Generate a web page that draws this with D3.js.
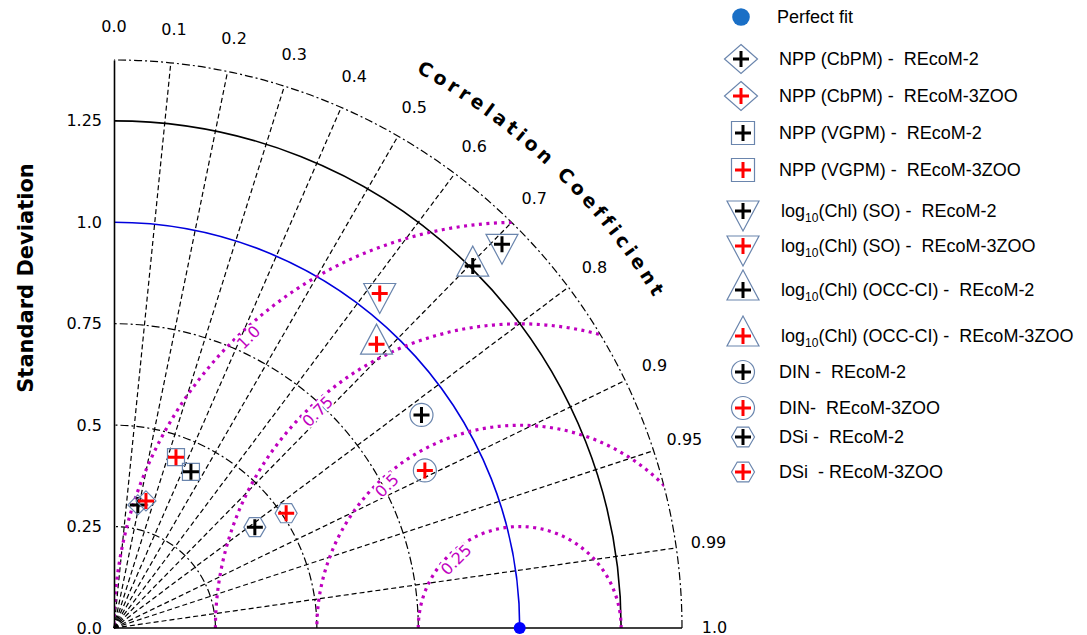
<!DOCTYPE html>
<html>
<head>
<meta charset="utf-8">
<script src="https://cdn.jsdelivr.net/npm/d3@7"></script>
<style>
body { margin: 0; background: #fff; }
</style>
</head>
<body>
<svg></svg>
<script>
var w = 1087;
var h = 635;

// series, in legend order
var seriesNames = [
  "NPP (CbPM) -  REcoM-2",
  "NPP (CbPM) -  REcoM-3ZOO",
  "NPP (VGPM) -  REcoM-2",
  "NPP (VGPM) -  REcoM-3ZOO",
  "log_10(Chl) (SO) -  REcoM-2",
  "log_10(Chl) (SO) -  REcoM-3ZOO",
  "log_10(Chl) (OCC-CI) -  REcoM-2",
  "log_10(Chl) (OCC-CI) -  REcoM-3ZOO",
  "DIN -  REcoM-2",
  "DIN-  REcoM-3ZOO",
  "DSi -  REcoM-2",
  "DSi  - REcoM-3ZOO"
];
var stdValues = [0.309, 0.323, 0.429, 0.448, 1.345, 1.053, 1.256, 0.953, 0.922, 0.859, 0.427, 0.51];
var corrValues = [0.19, 0.244, 0.442, 0.341, 0.711, 0.622, 0.704, 0.679, 0.822, 0.892, 0.813, 0.832];
var shapes = ["diamond", "diamond", "square", "square", "triDown", "triDown", "triUp", "triUp", "circle", "circle", "hexagon", "hexagon"];
var crossColors = ["#000", "#ff0000", "#000", "#ff0000", "#000", "#ff0000", "#000", "#ff0000", "#000", "#ff0000", "#000", "#ff0000"];

// grid / ticks
var stdTicks = [0, 0.25, 0.5, 0.75, 1.0, 1.25];
var stdTickLabels = ["0.0", "0.25", "0.5", "0.75", "1.0", "1.25"];
var stdArcs = [0.25, 0.5, 0.75];
var corrTicks = [0.0, 0.1, 0.2, 0.3, 0.4, 0.5, 0.6, 0.7, 0.8, 0.9, 0.95, 0.99, 1.0];
var corrTickLabels = ["0.0", "0.1", "0.2", "0.3", "0.4", "0.5", "0.6", "0.7", "0.8", "0.9", "0.95", "0.99", "1.0"];
var rmsLevels = [0.25, 0.5, 0.75, 1.0];
var rmsLabels = ["0.25", "0.5", "0.75", "1.0"];
var refStd = 1.0;
var maxStd = 1.4;

// legend row positions (layout)
var legendY = [59, 96, 133, 170, 211, 246, 290, 336, 372, 408, 437, 472];

var ox = 114, oy = 628;
var r = d3.scaleLinear().domain([0, maxStd]).range([0, 568]);
var yScale = d3.scaleLinear().domain([0, maxStd]).range([oy, oy - 568]);

function pt(s, c) {
  var a = Math.acos(c);
  return [ox + r(s) * Math.cos(a), oy - r(s) * Math.sin(a)];
}

var svg = d3.select("svg").attr("width", w).attr("height", h)
  .style("font-family", "DejaVu Sans");

var defs = svg.append("defs");
defs.append("clipPath").attr("id", "quarter")
  .append("path")
  .attr("d", "M" + ox + "," + oy + " L" + (ox + r(maxStd)) + "," + oy +
    " A" + r(maxStd) + "," + r(maxStd) + " 0 0 0 " + ox + "," + (oy - r(maxStd)) + " Z");

function arcPath(s) {
  return "M" + (ox + r(s)) + "," + oy + " A" + r(s) + "," + r(s) + " 0 0 0 " + ox + "," + (oy - r(s));
}

// radial correlation lines
svg.selectAll("line.corr")
  .data(corrTicks.filter((c) => c > 0 && c < 1))
  .enter()
  .append("line")
  .attr("class", "corr")
  .attr("x1", ox).attr("y1", oy)
  .attr("x2", (d) => pt(maxStd, d)[0])
  .attr("y2", (d) => pt(maxStd, d)[1])
  .style("stroke", "#000")
  .style("stroke-width", 1.2)
  .style("stroke-dasharray", "5,3");

// std arcs
svg.selectAll("path.std")
  .data(stdArcs.concat([maxStd]))
  .enter()
  .append("path")
  .attr("class", "std")
  .attr("d", (d) => arcPath(d))
  .style("fill", "none")
  .style("stroke", "#000")
  .style("stroke-width", 1.2)
  .style("stroke-dasharray", "8,3,2,3");

svg.append("path")
  .attr("d", arcPath(1.25))
  .style("fill", "none")
  .style("stroke", "#000")
  .style("stroke-width", 1.6);

svg.append("path")
  .attr("d", arcPath(refStd))
  .style("fill", "none")
  .style("stroke", "#0000dd")
  .style("stroke-width", 1.6);

// centred RMS difference arcs
var rmsG = svg.append("g").attr("clip-path", "url(#quarter)");
rmsG.selectAll("path")
  .data(rmsLevels)
  .enter()
  .append("path")
  .attr("d", (d) => "M" + (ox + r(refStd + d)) + "," + oy + " A" + r(d) + "," + r(d) +
    " 0 0 0 " + (ox + r(refStd - d)) + "," + oy)
  .style("fill", "none")
  .style("stroke", "#bf00bf")
  .style("stroke-width", 3.2)
  .style("stroke-dasharray", "3,4.5");

svg.selectAll("text.rms")
  .data(rmsLevels)
  .enter()
  .append("text")
  .attr("class", "rms")
  .attr("transform", (d) => {
    var a = 133 * Math.PI / 180;
    var rr = d - 0.02;
    var x = ox + r(refStd + rr * Math.cos(a));
    var y = oy - r(rr * Math.sin(a));
    return "translate(" + x + "," + y + ") rotate(-45)";
  })
  .attr("text-anchor", "middle")
  .attr("dy", "0.35em")
  .style("font-size", "16px")
  .style("fill", "#bf00bf")
  .style("stroke", "#fff")
  .style("stroke-width", 4)
  .style("paint-order", "stroke")
  .text((d, i) => rmsLabels[i]);

// axes
var yAxis = d3.axisLeft(yScale)
  .tickValues(stdTicks)
  .tickFormat((d, i) => stdTickLabels[i])
  .tickSize(0)
  .tickPadding(12);
var yg = svg.append("g").attr("transform", "translate(" + ox + ",0)").call(yAxis);
yg.attr("font-family", null).attr("font-size", null);
yg.select(".domain").style("stroke", "#000").style("stroke-width", 1.6);
yg.selectAll("text").style("font-size", "16px").style("fill", "#000");

svg.append("line")
  .attr("x1", ox).attr("y1", oy)
  .attr("x2", ox + r(maxStd)).attr("y2", oy)
  .style("stroke", "#000")
  .style("stroke-width", 1.6);

svg.append("text")
  .attr("transform", "translate(33,278) rotate(-90)")
  .attr("text-anchor", "middle")
  .style("font-size", "21px")
  .style("font-weight", "bold")
  .text("Standard Deviation");

// correlation tick labels
svg.selectAll("text.corrlab")
  .data(corrTicks)
  .enter()
  .append("text")
  .attr("class", "corrlab")
  .attr("x", (d) => pt(1.48, d)[0])
  .attr("y", (d) => pt(1.48, d)[1])
  .attr("text-anchor", "middle")
  .attr("dy", "0.3em")
  .style("font-size", "16px")
  .text((d, i) => corrTickLabels[i]);

// curved title
var tr = r(1.56);
var a1 = 61.5 * Math.PI / 180, a2 = 25 * Math.PI / 180;
defs.append("path").attr("id", "titleArc")
  .attr("d", "M" + (ox + tr * Math.cos(a1)) + "," + (oy - tr * Math.sin(a1)) +
    " A" + tr + "," + tr + " 0 0 1 " + (ox + tr * Math.cos(a2)) + "," + (oy - tr * Math.sin(a2)));
svg.append("text")
  .style("font-size", "19px")
  .style("font-weight", "bold")
  .style("letter-spacing", "4px")
  .append("textPath")
  .attr("href", "#titleArc")
  .text("Correlation Coefficient");

// marker shapes
function shapePath(type, big) {
  if (type === "diamond") {
    var sx = big ? 16.5 : 10, sy = big ? 14.5 : 10;
    return "M0," + (-sy) + "L" + sx + ",0L0," + sy + "L" + (-sx) + ",0Z";
  }
  if (type === "square") {
    var s = big ? 11.5 : 8.5;
    return "M" + (-s) + "," + (-s) + "H" + s + "V" + s + "H" + (-s) + "Z";
  }
  if (type === "triUp") return "M0,-20L16,10L-16,10Z";
  if (type === "triDown") return "M0,20L16,-10L-16,-10Z";
  if (type === "circle") return d3.arc()({innerRadius: 0, outerRadius: 11.5, startAngle: 0, endAngle: 2 * Math.PI});
  if (type === "hexagon") {
    var hr = big ? 11.5 : 11;
    var p = d3.range(6).map((k) => [hr * Math.cos(k * Math.PI / 3), hr * Math.sin(k * Math.PI / 3)]);
    return "M" + p.join("L") + "Z";
  }
}

function drawMarker(g, i, big) {
  g.append("path")
    .attr("d", shapePath(shapes[i], big))
    .style("fill", "none")
    .style("stroke", "#6a85ad")
    .style("stroke-width", 1.2);
  g.append("path")
    .attr("d", "M-8,0H8M0,-8V8")
    .style("stroke", crossColors[i])
    .style("stroke-width", 3);
}

var marks = svg.selectAll("g.mark")
  .data(seriesNames)
  .enter()
  .append("g")
  .attr("class", "mark")
  .attr("transform", (d, i) => "translate(" + pt(stdValues[i], corrValues[i]) + ")");
marks.each(function (d, i) { drawMarker(d3.select(this), i, false); });

// perfect fit point
svg.append("circle")
  .attr("cx", pt(refStd, 1)[0])
  .attr("cy", pt(refStd, 1)[1])
  .attr("r", 6)
  .style("fill", "#0000ff");

// legend
var legend = svg.append("g").style("font-family", "Liberation Sans, Arial").style("font-size", "18px");
legend.append("circle").attr("cx", 741).attr("cy", 17).attr("r", 8.8).style("fill", "#1a6fc6");
legend.append("text").attr("x", 777).attr("y", 17).attr("dy", "0.35em").text("Perfect fit");

var rows = legend.selectAll("g.row")
  .data(seriesNames)
  .enter()
  .append("g")
  .attr("class", "row")
  .attr("transform", (d, i) => "translate(0," + legendY[i] + ")");

rows.each(function (d, i) {
  var g = d3.select(this);
  var mg = g.append("g").attr("transform", "translate(" + (shapes[i] === "diamond" ? 741 : 743) + ",0)");
  drawMarker(mg, i, true);
  var t = g.append("text")
    .attr("x", d.indexOf("_10") >= 0 ? 781 : 779)
    .attr("dy", "0.35em")
    .style("white-space", "pre");
  if (d.indexOf("_10") >= 0) {
    var parts = d.split("_10");
    t.append("tspan").text(parts[0]);
    t.append("tspan").attr("dy", 5).style("font-size", "12px").text("10");
    t.append("tspan").attr("dy", -5).text(parts[1]);
  } else {
    t.text(d);
  }
});
</script>
</body>
</html>
